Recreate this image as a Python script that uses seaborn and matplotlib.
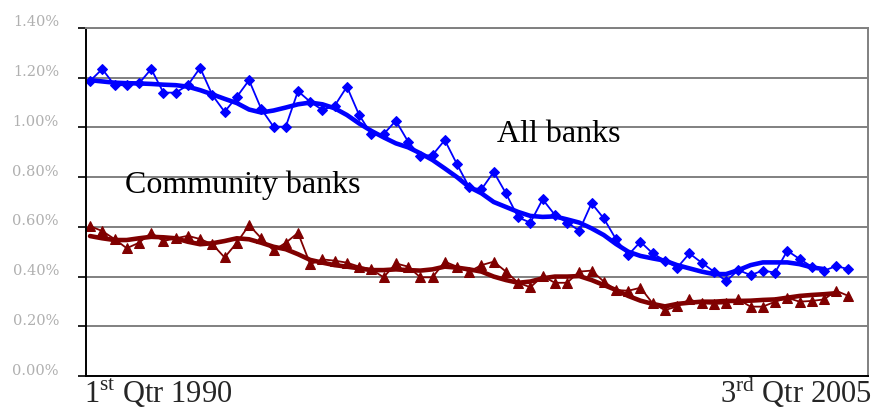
import numpy as np
import pandas as pd
import matplotlib
matplotlib.use("Agg")
import matplotlib.pyplot as plt
import matplotlib.transforms as mtransforms
import seaborn as sns

# quarterly ratios, 1Q1990 .. 3Q2005 (63 quarters), in percent
all_banks = [
    1.187, 1.235, 1.17, 1.17, 1.177, 1.235, 1.14, 1.14, 1.17, 1.24,
    1.13, 1.063, 1.123, 1.19, 1.074, 1.003, 1.003, 1.146, 1.103, 1.07,
    1.087, 1.164, 1.05, 0.973, 0.973, 1.027, 0.943, 0.885, 0.889, 0.949,
    0.852, 0.759, 0.751, 0.821, 0.735, 0.638, 0.617, 0.711, 0.648, 0.617,
    0.585, 0.695, 0.634, 0.55, 0.487, 0.54, 0.493, 0.464, 0.436, 0.493,
    0.456, 0.42, 0.382, 0.426, 0.406, 0.424, 0.416, 0.504, 0.471, 0.44,
    0.424, 0.442, 0.43,
]
community_banks = [
    0.603, 0.583, 0.551, 0.514, 0.536, 0.576, 0.543, 0.554, 0.564, 0.551,
    0.53, 0.477, 0.536, 0.607, 0.554, 0.505, 0.536, 0.576, 0.45, 0.469,
    0.464, 0.456, 0.44, 0.429, 0.397, 0.453, 0.44, 0.397, 0.397, 0.46,
    0.44, 0.42, 0.446, 0.46, 0.42, 0.375, 0.357, 0.402, 0.375, 0.375,
    0.42, 0.424, 0.38, 0.346, 0.343, 0.355, 0.292, 0.265, 0.28, 0.308,
    0.292, 0.29, 0.292, 0.308, 0.279, 0.279, 0.299, 0.315, 0.299, 0.302,
    0.308, 0.343, 0.322,
]
# smoothed trend lines
all_banks_trend = [
    1.19, 1.185, 1.18, 1.178, 1.177, 1.175, 1.172, 1.17, 1.164, 1.15,
    1.133, 1.115, 1.098, 1.072, 1.06, 1.068, 1.08, 1.093, 1.10, 1.093,
    1.077, 1.05, 1.016, 0.986, 0.96, 0.936, 0.92, 0.896, 0.869, 0.835,
    0.80, 0.76, 0.735, 0.70, 0.68, 0.66, 0.644, 0.64, 0.642, 0.63,
    0.617, 0.594, 0.567, 0.531, 0.50, 0.483, 0.473, 0.464, 0.446, 0.433,
    0.42, 0.41, 0.41, 0.426, 0.446, 0.457, 0.457, 0.457, 0.45, 0.437,
    0.43, np.nan, np.nan,
]
community_trend = [
    0.563, 0.554, 0.547, 0.547, 0.554, 0.56, 0.558, 0.554, 0.54, 0.53,
    0.534, 0.543, 0.554, 0.55, 0.536, 0.52, 0.51, 0.49, 0.467, 0.456,
    0.446, 0.44, 0.433, 0.426, 0.426, 0.429, 0.426, 0.424, 0.429, 0.44,
    0.436, 0.429, 0.42, 0.40, 0.386, 0.375, 0.38, 0.393, 0.40, 0.40,
    0.402, 0.386, 0.366, 0.346, 0.322, 0.303, 0.29, 0.28, 0.29, 0.295,
    0.299, 0.299, 0.302, 0.302, 0.303, 0.306, 0.308, 0.315, 0.322, 0.326,
    0.329, 0.333, np.nan,
]
y_ticks = [0.0, 0.2, 0.4, 0.6, 0.8, 1.0, 1.2, 1.4]
y_tick_labels = ["0.00%", "0.20%", "0.40%", "0.60%", "0.80%", "1.00%", "1.20%", "1.40%"]

quarter = np.arange(len(all_banks))
df = pd.DataFrame({
    "q": quarter,
    "all": all_banks,
    "community": community_banks,
    "all_trend": all_banks_trend,
    "community_trend": community_trend,
})

sns.set_style("white")
plt.rcParams["font.family"] = ["Liberation Serif", "DejaVu Serif"]
plt.rcParams["mathtext.fontset"] = "custom"
plt.rcParams["mathtext.rm"] = "Liberation Serif"

blue = "#0000FF"
red = "#800000"

fig = plt.figure(figsize=(8.75, 4.11), dpi=100)
ax = fig.add_axes([86 / 875, 1 - 376 / 411, (868 - 86) / 875, (376 - 28) / 411])

sns.lineplot(data=df, x="q", y="all", ax=ax, color=blue, lw=1.3,
             marker="D", markersize=5.5, markeredgecolor=blue)
sns.lineplot(data=df, x="q", y="all_trend", ax=ax, color=blue, lw=3.3)
sns.lineplot(data=df, x="q", y="community", ax=ax, color=red, lw=1.3,
             marker="^", markersize=7, markeredgecolor=red)
sns.lineplot(data=df, x="q", y="community_trend", ax=ax, color=red, lw=3.3)

ax.set_xlim(-0.33, 63.6)
ax.set_ylim(0, 1.4)
ax.set_yticks(y_ticks)
ax.set_yticklabels(y_tick_labels, family="DejaVu Serif", fontsize=10.5, color="#b0b0b0")
ax.set_xticks([])
ax.set_xlabel("")
ax.set_ylabel("")
ax.grid(axis="y", color="#808080", lw=1.4)
ax.set_axisbelow(True)
ax.tick_params(axis="y", direction="out", length=6, width=1.2, color="black",
               pad=13.5, left=True)

for side in ["top", "right"]:
    ax.spines[side].set_color("#808080")
    ax.spines[side].set_linewidth(1.4)
for side in ["left", "bottom"]:
    ax.spines[side].set_color("black")
    ax.spines[side].set_linewidth(1.4)

# labels sit slightly above their gridlines in the original
offset = mtransforms.ScaledTranslation(0, 7 / 100, fig.dpi_scale_trans)
for lbl in ax.get_yticklabels():
    lbl.set_transform(lbl.get_transform() + offset)

ax.text(33.3, 0.942, "All banks", fontsize=23, color="black", ha="left", va="baseline")
ax.text(2.86, 0.736, "Community banks", fontsize=23, color="black", ha="left", va="baseline")

fig.text(84 / 875, 1 - 403 / 411, r"1$^{\mathrm{st}}$ Qtr 1990", fontsize=22,
         ha="left", va="baseline")
fig.text(872 / 875, 1 - 403 / 411, r"3$^{\mathrm{rd}}$ Qtr 2005", fontsize=22,
         ha="right", va="baseline")

fig.savefig("out.png", dpi=100)
plt.close(fig)
